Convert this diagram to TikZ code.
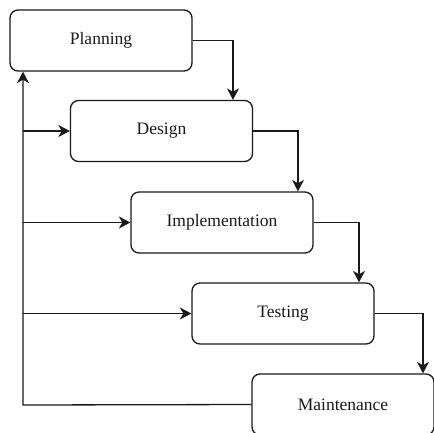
\documentclass[tikz,border=0pt]{standalone}
\usepackage{fontspec}
\setmainfont{Liberation Serif}
\usetikzlibrary{arrows.meta}
\begin{document}
\begin{tikzpicture}[x=1pt,y=-1pt,
  phase/.style={draw=black!90, line width=1.3pt, rounded corners=8pt,
    minimum width=182pt, minimum height=61pt, inner sep=0pt,
    font=\fontsize{17.5}{20}\selectfont, text=black!90},
  flow/.style={draw=black!90, line width=1.3pt,
    -{Stealth[length=11.5pt,width=12pt,inset=3.5pt]}},
  link/.style={draw=black!90, line width=1.3pt}]
\useasboundingbox (0,0) rectangle (434,432);
\node[phase] (plan)  at (101,40.5)  {Planning};
\node[phase] (des)   at (161.5,131) {Design};
\node[phase] (impl)  at (222,222.5) {Implementation};
\node[phase] (test)  at (283,313.5) {Testing};
\node[phase] (maint) at (343,404.5) {Maintenance};
% forward cascade
\draw[flow] (plan.east) -| (des.north -| 233,0);
\draw[flow] (des.east)  -| (impl.north -| 298,0);
\draw[flow] (impl.east) -| (test.north -| 359,0);
\draw[flow] (test.east) -| (maint.north -| 423,0);
% feedback paths
\coordinate (fb) at (23,405);
\draw[flow] (maint.west) -- (fb) -- (plan.south -| fb);
\draw[flow] (des.west -| fb) -- (des.west);
\draw[flow] (impl.west -| fb) -- (impl.west);
\draw[flow] (test.west -| fb) -- (test.west);
\end{tikzpicture}
\end{document}
